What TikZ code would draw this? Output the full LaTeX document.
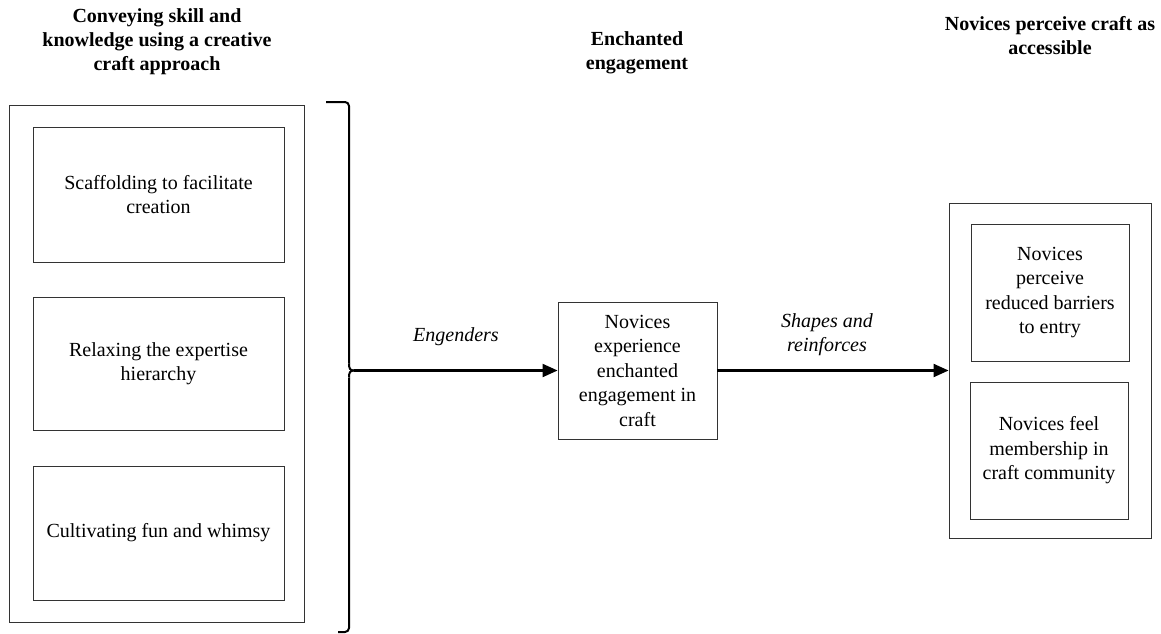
\documentclass[tikz,border=0pt]{standalone}
\usepackage{fontspec}
\setmainfont{Liberation Serif}
\usetikzlibrary{arrows.meta}
\begin{document}
\begin{tikzpicture}[x=1pt,y=-1pt,
  every node/.style={font=\fontsize{20}{24.5}\selectfont, align=center, inner sep=0pt},
  boxline/.style={draw=black!80, line width=0.9pt},
  title/.style={font=\fontsize{20}{24}\selectfont\bfseries},
  lbl/.style={font=\fontsize{20}{24}\selectfont\itshape},
  arr/.style={line width=2.1pt, -{Triangle[length=15pt,width=13pt]}},
  bracepath/.style={line width=2pt, rounded corners=4pt}]
\useasboundingbox (0,0) rectangle (1161,634);
% titles
\node[title] (t1) at (157,41.5) {Conveying skill and\\knowledge using a creative\\craft approach};
\node[title] (t2) at (637,53) {Enchanted\\engagement};
\node[title] (t3) at (1050,36) {Novices perceive craft as\\accessible};
% left group
\node[boxline, minimum width=295pt, minimum height=517pt] (lout) at (156.5,363.5) {};
\node[boxline, minimum width=251pt, minimum height=135pt] (l1) at (158.5,194.5) {Scaffolding to facilitate\\creation};
\node[boxline, minimum width=251pt, minimum height=133pt] (l2) at (158.5,363.5) {Relaxing the expertise\\hierarchy};
\node[boxline, minimum width=251pt, minimum height=134pt] (l3) at (158.5,533) {Cultivating fun and whimsy};
% center
\node[boxline, minimum width=159pt, minimum height=137pt] (c) at (637.5,370.5) {Novices\\experience\\enchanted\\engagement in\\craft};
% brace
\coordinate (btip) at (354,370.5);
\draw[bracepath] (326,102) -- (349,102) -- (349,363.5);
\draw[line width=2pt] (349,363.5) .. controls (349,368.5) and (350,370.5) .. (btip);
\draw[line width=2pt] (btip) .. controls (350,370.5) and (349,372.5) .. (349,377.5);
\draw[bracepath] (349,377.5) -- (349,632) -- (338,632);
% right group
\node[boxline, minimum width=202pt, minimum height=335pt] (rout) at (1050,370.5) {};
\node[boxline, minimum width=158pt, minimum height=137pt] (r1) at (1050,292.5) {Novices\\perceive\\reduced barriers\\to entry};
\node[boxline, minimum width=158pt, minimum height=137pt] (r2) at (1049,450.5) {Novices feel\\membership in\\craft community};
% arrows
\draw[arr] (btip) -- (c.west);
\draw[arr] (c.east) -- (rout.west);
\node[lbl] (e1) at (456,337) {Engenders};
\node[lbl] (e2) at (827,335) {Shapes and\\reinforces};
\end{tikzpicture}
\end{document}
